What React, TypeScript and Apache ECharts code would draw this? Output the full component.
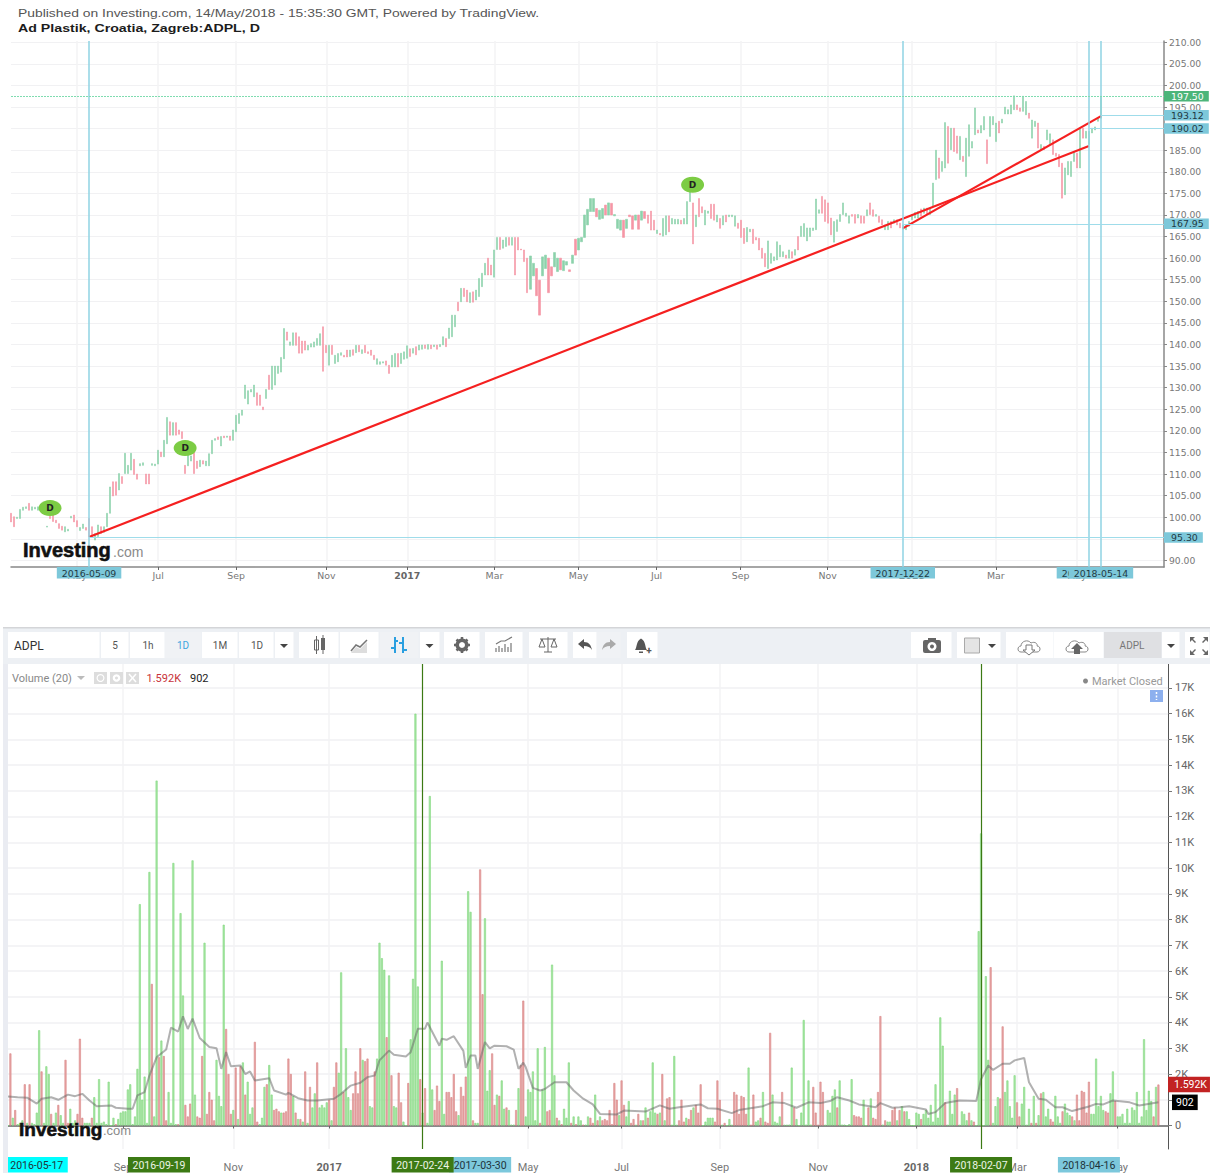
import React, { useEffect, useRef } from "react";
import * as echarts from "echarts";

// ---------- Price pane: one entry per drawn bar (low, high, direction u/d) ----------
const priceLows = [
  98.9,97.8,99.7,99.7,101.6,102,101.6,101.6,101.9,101.6,
  101.5,101,97.7,99.7,99,98.7,97.4,97,96.6,96.8,
  99.8,98.9,97.8,96.9,97.4,97,95.5,95.3,94.7,95.5,
  96.2,96.5,97.8,100.9,104.9,105.1,106.3,107.8,110.1,110.1,
  110.9,109.9,108.8,111.9,112,107.7,107.7,112,111.9,112.3,
  114,114,117,119,119,119,119.2,118.2,110.1,111.9,
  113,110.1,111.3,111.7,112.3,111.9,111.9,114.7,117.8,118,
  116.5,118.4,118.5,117.8,117.8,119.8,121.7,123.6,127.5,126.2,
  129,127.9,125.9,125.9,124.9,127.5,129.6,129.6,130.6,133.3,
  133.6,136.7,141,139.8,139.8,139.8,138,138,138.7,138.7,
  139.4,139.4,139.8,139.8,133.8,138.1,135.2,137.7,135.6,136,
  137.5,137.1,137.1,137.2,137.5,138.1,138.3,137.9,138.1,137.9,
  137.5,136.5,135.4,135.4,135.7,135.2,133.3,134.8,134.8,134.8,
  135.6,136.6,136.8,137.2,138,137.6,138.7,138.9,139.1,138.9,
  139,139.5,138.9,139.5,139.9,139.5,141.4,141.8,144.1,147.8,
  149.9,151.1,149.9,149.7,149.8,150.3,151.1,153.4,156.1,156.1,
  156.1,155.6,162,162,162.3,162.7,163,163,156.1,161.9,
  161.9,159.2,152,152.8,155.9,151.3,146.8,155.9,157.6,152,
  155.9,158,156.9,157.3,157.1,158.4,156.9,158.8,160.7,161.9,
  163.8,164.8,167.7,170.8,170.8,169.6,169,169.2,170,170,
  170,169.8,166.9,166.5,164.8,166.9,169.6,166.7,168.8,166.7,
  168.8,169.2,168.1,166.5,166.5,165.7,165.4,165.1,165.4,166.1,
  167.9,167.9,167.9,167.9,167.9,167.9,173.1,163.3,167.3,169.6,
  170.5,167.7,170.4,169.2,168.8,168.4,166.9,167.7,168.4,169.6,
  169.6,167.4,166.9,164.8,163.4,163.8,166.1,163.4,164.2,161.9,
  160,158,157.6,158.8,159.4,159.6,160.3,160.3,160,160,
  160,160.7,161.9,165,165,164,165,166.4,166.6,170.4,
  170.4,168.5,168.1,165.4,163.7,166.2,168.5,170.1,169.7,168.1,
  169.7,168.1,169.3,168.1,168.1,169.8,170.1,169.7,169.7,168.3,
  167.7,166.6,166.6,167,168.1,167.7,167,166.7,166.6,167.4,
  168.9,169.3,169.3,169.7,170.4,170.1,170.1,172,178.2,178.5,
  180.1,180.9,182,185.1,184.7,184.3,182.8,182.4,178.9,183.6,
  185.5,188.6,189,189,189.7,181.9,188.2,190.9,187,189,
  191.3,193.4,193.4,193.4,194.4,194.4,194,194,193.2,192.4,
  187.8,190.5,185.5,185.1,185.1,187.4,186.3,184,183.6,181.2,
  173.9,174.7,179.3,178.9,182.4,180.9,180.9,187.8,187.8,186.3,
  189,189.7,191.7,192.4,
];
const priceHighs = [
  100.9,100.1,100,101.8,102.3,102.4,103.2,102.4,102.3,102.4,
  102.2,102,97.9,100.2,100.5,99.3,98.5,97.9,97.8,97.2,
  100.2,100.5,99.2,97.6,98.4,97.6,99.7,97.8,96.2,98.2,
  97.8,97.8,100.9,107,108.2,108.2,110.1,109.4,114.8,112,
  114.8,113.4,110,112.4,112.6,110,110,112.4,112.3,115.5,
  115.1,117.8,123.1,122.1,121.9,121.9,120.2,119.8,112,114.4,
  114.2,115.5,113,113.2,113.1,113,114.7,117.8,118.2,118.6,
  118.7,118.8,118.8,118.8,120.2,123.6,124,124.8,130.6,129.3,
  129.6,130.6,128.8,128.3,125.5,129.6,132.9,135,135,135,
  137,143.7,142.9,140.6,142.7,142.7,141.8,140.8,140.8,139.8,
  140.2,140.6,141.4,142.5,144.1,139.8,139.8,139.8,137.5,137.9,
  138.1,137.5,138.7,138.7,138.8,139.8,139.8,138.8,139.8,138.3,
  138.7,137.5,136.7,136,136,136.2,135.2,137.5,137.9,137.9,
  138,138.3,139.7,139,139.1,139.5,139.9,139.9,139.9,140,
  139.9,139.9,139.9,140,141.8,141.4,143.8,146.8,146.8,149.8,
  153,153,152.6,152,152.2,152.6,155.3,156.5,158.8,160,
  158.4,161.9,164.8,164.8,164.2,164.8,164.8,164.8,164.8,164.8,
  162.1,161.9,160,160.5,158.8,157.6,154.9,160.3,160.7,160,
  158,161.3,160,160,159.4,159.2,157.3,160.7,164.4,164.6,
  164.8,170,171.3,173.8,173.8,171.5,171.1,171.5,172.3,172.8,
  172.7,170.1,169,168.8,168.8,169,170,169.8,170,170,
  170.9,170.8,170,170.9,168.8,166.5,165.7,169.2,169.8,169.8,
  169.2,169,169,168.8,169.2,173.1,175.4,172.8,170,173.8,
  171.9,171.1,170.9,172.5,172.5,170,169.2,169.8,170,170,
  170,169.8,168.1,168.8,166.9,167.1,166.7,166.7,164.8,164.6,
  162.3,161.1,164,161.1,160.3,163.8,163,161.5,160.7,161.9,
  161.5,162,165,167.4,168,167,167,167,173.7,171.2,
  174.3,173.5,172.8,169.3,168.5,168.9,170.1,172.8,170.4,169.8,
  170.1,170.1,170.1,169.8,169.7,171.2,172.8,171.2,170.1,169.7,
  168.9,167.7,168.5,168.5,168.9,168.9,168.1,167.7,167.7,168.5,
  170.1,170.6,170.8,171.4,171.6,171.6,171.6,177.4,185,183.2,
  182.4,191.4,190.5,190.1,190.1,188.3,188.2,183.6,187.8,190.9,
  187,194.8,189.7,190.7,192.8,187.4,192.8,192.8,191.3,191.7,
  192.2,195,194.4,195.5,197.6,195.5,194.8,197.5,196.3,193.6,
  192,191.7,191.3,186.3,185.9,189.7,188.8,187.4,184.3,184,
  182,180.9,182.4,182.4,184.7,184.3,190.1,190.1,189.4,189.4,
  190.1,190.4,192.4,197.5,
];
const priceDirections = [
  "dduuu uduuu","uuudd ddduu","udduu ddduu","duuud duduu","udduu dduuu",
  "duudu ddddu","uddud uuuud","ududu uuuuu","uuddd uduuu","uuduu ddddu",
  "uuuud duduu","uddud ududd","dduuu dduud","uuudu duudu","duduu duuud",
  "uddud uuuud","duudu ududd","ddduu dduud","duudu ududu","uuuuu duudu",
  "duuud uddud","udddd uduud","uuudu uudud","duudd ududu","uuddd uuddd",
  "dduuu uuudu","duduu uuuuu","ddddu uuuuu","ddudd uddud","duudu dduuu",
  "uuudu duuud","uudud duduu","uuduu duuud","uuuuu dduud","uudud uuddd",
  "duuuu duduu","uuuu",
].join("").replace(/ /g, "");

const priceLabels: Record<number, string> = {
  22: "May", 49: "Jul", 75: "Sep", 105: "Nov", 132: "2017", 161: "Mar", 189: "May",
  215: "Jul", 243: "Sep", 272: "Nov", 300: "2018", 328: "Mar", 355: "May",
};
const priceCategories = Array.from({ length: 385 }, (_, i) => String(i));
const priceTicks = [90,95,100,105,110,115,120,125,130,135,140,145,150,155,160,165,170,175,180,185,190,195,200,205,210];
const longTrend = [[26, 95.4], [359, 186]];
const shortTrend = [[297, 166.9], [363, 192.9]];
const dividends = [[13, 102.1], [58, 116], [227, 177]];
const priceDateTags: [number, string][] = [[26, "2016-05-09"], [297, "2017-12-22"], [359, "2018-05-07"], [363, "2018-05-14"]];
const priceLevels: [number, number, string][] = [[363, 193.12, "193.12"], [359, 190.02, "190.02"], [297, 167.95, "167.95"], [26, 95.3, "95.30"]];

// ---------- Volume pane: thousands of shares; negative = down day ----------
const signedVolumeK = [
  0,-2.8,.3,-.6,.05,.1,.2,-1.6,.1,-1.6,
  .1,.05,.5,3.7,-2.1,.1,2.3,2,-.45,.1,
  .5,-.8,.4,.1,-2.55,-.1,.65,.1,.2,-.45,
  -3.37,-.3,.1,.1,.1,-.3,1.1,.1,1.8,.1,
  .15,.05,1.7,0,.3,-.05,.25,.5,.55,.55,
  1.4,1.6,.05,.35,2.2,8.6,1,1.9,.1,9.85,
  -5.5,.35,13.4,-2.65,3.3,-2.7,-.2,1.3,.1,10.2,
  .05,-.05,8.25,5.05,-.8,-.35,-.85,10.3,1.2,-.35,
  -.3,-2.7,7.1,-.45,-1.3,-1,-.2,2.55,1.15,.75,
  7.8,-3.75,-2,-.45,.6,-2.25,.25,-2.3,2.45,-1.2,
  1.7,.45,.7,-3.25,-.15,.05,.3,1.5,-1.6,2.35,
  1.2,-.6,-.65,-.55,.5,-.5,-.55,-2.6,-2,1.15,
  -.5,.25,-.25,.15,-2.1,.1,-1.5,.7,1.25,-2.45,
  .7,.8,.7,.9,-1,.2,-1.5,-2.45,2.05,5.95,
  -1.3,3,1.1,.6,-1.25,-2.1,-1.25,-3,2.55,-2.5,
  -2.6,.75,.7,-2.1,2.6,7.1,6.5,6.05,-3.43,5.83,
  -1.95,.75,.7,-2.05,-.9,.15,0,-1.65,3.35,5.7,
  16,5.4,-1.8,.5,-1.45,.1,12.8,1.4,-.6,-1.55,
  -.95,6.4,.45,-1.3,-1.3,-1.1,-2,-.55,.4,-1.5,
  -1.15,-1.9,9.1,8.3,-.2,.1,.1,-9.95,-5.1,8.05,
  1.35,2.15,-2.8,-.8,1.2,-1.15,1.75,.65,-.7,.6,
  .03,.03,-.6,1.45,-2.35,-4.85,.35,1.4,1.3,2.1,
  .2,3,-.1,1.4,3.05,-.55,-.6,6.25,1.95,-.3,
  .2,-.05,.65,.3,2.45,-.1,.35,-.05,.35,.2,
  -.03,.03,.35,-.3,-.1,1.2,-.2,.35,-.2,-.25,
  -.2,-.6,-.05,-1.65,-1,.4,-1.75,-.8,.35,.95,
  -.1,-.25,.02,-.45,.2,-.2,.7,-.3,.55,2.45,
  .5,-.45,.5,-2,.2,-1.05,-1.1,.02,2.7,.02,
  -.2,-1,-.15,.3,-.25,-.6,.7,-.8,-.5,-1.6,
  0,.15,.3,.3,.3,-.15,-1.75,-1,.02,-.1,
  0,.25,.02,-1.3,-1.2,-.45,-1.15,-1.1,-.45,2.25,
  -.02,-1.2,.15,.2,-.3,1.3,-.15,-.1,-3.6,1.2,
  .15,.1,.35,-1.3,.02,.02,.03,2.25,-.7,.25,
  0,.5,4.1,.03,1.75,.03,-1.5,-.5,-.02,-1.7,
  -1.3,.02,.6,.5,1.15,1.4,-.7,1.75,.03,.03,
  0,.05,1.8,-.4,-.35,-.35,-.3,1,0,-.7,
  1.05,-.3,-.25,-1.3,-4.25,.03,-.2,.15,.15,-.6,
  -.7,.2,-.6,.75,-.55,.55,.25,0,0,.5,
  .45,-.25,.45,.6,.3,.8,.15,1.6,.3,4.2,
  3.1,-.9,.02,1.35,.45,1.2,-1.45,.02,.55,.45,
  .2,-.5,.2,-.15,0,7.55,11.35,0,5.8,2.55,
  -6.15,.1,.75,1.1,-1.05,-3.85,1.3,1.75,.75,.3,
  1.95,-.9,-.35,.85,1.5,.02,.65,-.1,1.15,-.1,
  .4,-1.25,1.3,.35,.65,-.25,-.15,1.15,.35,.1,
  -.55,.85,.5,.4,-.35,.2,-1.2,-.2,-1.35,-1.3,
  -.5,-1.7,.45,.45,2.6,.75,1.15,.6,-.55,-.5,
  1.25,2.1,-.95,.35,.35,.45,.1,.65,.1,.7,
  .6,1.3,.1,.35,3.35,.6,1.35,.95,-.35,1.5,
  -1.592,
];
// [bar number, Volume(20) in thousands]
const volumeAverageK = [
  [0,1.13],[4,1.1],[8,1.08],[12,.85],[14,1.04],[18,1.1],[21,1],[25,1.2],[28,1.14],[31,1.23],[34,.97],[37,.75],[43,.78],[45,.69],[50,.65],[52,.65],[54,1.17],[57,1.3],[59,1.94],[62,2.65],[66,2.95],[68,3.8],[71,3.65],[73,4.24],[75,3.75],[77,4.15],[80,3.4],[84,3.05],[87,3],[89,2.2],[91,2.85],[93,2.3],[97,2.33],[99,2],[101,2.1],[103,1.75],[109,1.84],[111,1.36],[116,1.2],[117,1.27],[121,1.06],
  [125,.97],[129,.97],[136,1.04],[139,1.23],[143,1.55],[147,1.66],[150,1.88],[153,1.94],[155,2.53],[159,2.91],[161,2.75],[166,2.68],[168,2.85],[171,3.76],[174,3.76],[175,4],[180,3.1],[181,3.37],[183,3.33],[186,3.47],[190,2.9],[191,2.24],[193,2.72],[195,2.72],[196,2.2],[199,3.24],[201,3],[203,3.1],[208,3.08],[211,2.95],[213,2.2],[215,2.44],[216,2.27],[219,1.46],[222,1.36],[224,1.42],[228,1.68],[233,1.68],[236,1.36],[240,1.04],[244,.82],[247,.45],
  [254,.43],[257,.58],[266,.54],[272,.78],[276,.65],[280,.71],[289,.82],[292,.67],[296,.65],[302,.48],[305,.6],[315,.75],[319,.9],[324,.87],[329,.69],[334,.9],[339,.87],[343,.95],[346,1.1],[351,.97],[355,.82],[362,.71],[364,.87],[369,.69],
  [372,.71],[376,.75],[383,.62],[384,.45],[387,.52],[391,.87],[397,.97],[404,.95],[406,1.8],[409,2.33],[411,2.16],[415,2.4],[418,2.4],[420,2.53],[424,2.62],[426,1.68],[430,1.04],[433,1],[437,.71],[440,.71],[444,.56],[451,.74],[454,.84],[457,.82],[461,.97],[468,.9],[472,.78],[480,.9],
];
const volumeLabels: Record<number, string> = {
  48: "Sep", 94: "Nov", 134: "2017", 217: "May", 256: "Jul", 297: "Sep", 338: "Nov", 379: "2018", 421: "Mar", 463: "May",
};
const volumeCategories = Array.from({ length: 485 }, (_, i) => String(i));
const volumeTicks = Array.from({ length: 18 }, (_, i) => i);
const volumeTickLabels = ["0","1K","2K","3K","4K","5K","6K","7K","8K","9K","10K","11K","12K","13K","14K","15K","16K","17K"];
const volumeCrosshairs: [number, string][] = [[173, "2017-02-24"], [406, "2018-02-07"]];
const volumeMarks: [number, string, string, string][] = [
  [12, "2016-05-17", "#00ffff", "#20333a"],
  [63, "2016-09-19", "#3c7a14", "#eef5e8"],
  [197, "2017-03-30", "#7cc8dc", "#20333a"],
  [451, "2018-04-16", "#7cc8dc", "#20333a"],
];

const SANS = "'Liberation Sans', Arial, sans-serif";
const DEJA = "'DejaVu Sans', sans-serif";
const ROB = "Roboto, sans-serif";
const TAG_BLUE = "#7dc8da";
const CLEAR = "rgba(0,0,0,0)";

const icons: Record<string, string> = {
  icoBell: "M-6 5C-4 3 -5 -4 0 -6.5C5 -4 4 3 6 5Z M-2 6.5H2V8H-2Z",
  icoCloud: "M-8 6C-12 6 -12 0 -8 0C-8 -5 -1 -7 2 -3C6 -5 9 -2 8 0C12 0 12 6 8 6Z",
  icoScale: "M-8 -6H8 M0 -8V7 M-4 7H4 M-6 -6L-9 2H-3Z M6 -6L3 2H9Z",
  icoArea: "M-8 7L-3 1L1 3L8 -4V7Z",
  icoLine: "M-8 5L-3 -1L1 1L8 -6",
  icoBars: "M-4 -8V8 M-4 3H-8 M-4 -4H-1 M4 -8V8 M4 -2H0 M4 5H8",
  icoInd: "M-8 7V3 M-5 7V1 M-2 7V3 M1 7V-1 M4 7V2 M7 7V-2 M-8 -1L-3 -4L1 -4L8 -8",
  icoBack: "M-7 -1L-1 -6V-3C4 -3 6 0 7 5C5 2 3 1 -1 1V4Z",
  icoFwd: "M7 -1L1 -6V-3C-4 -3 -6 0 -7 5C-5 2 -3 1 1 1V4Z",
  icoDown: "M-3 -2H3V3H6L0 8L-6 3H-3Z",
  icoUp: "M-3 8H3V3H6L0 -3L-6 3H-3Z",
  icoFull: "M-9 -9H-4L-6 -7L-3 -4L-4 -3L-7 -6L-9 -4Z M9 -9H4L6 -7L3 -4L4 -3L7 -6L9 -4Z M-9 9H-4L-6 7L-3 4L-4 3L-7 6L-9 4Z M9 9H4L6 7L3 4L4 3L7 6L9 4Z",
  icoCaret: "M-4 -2H4L0 2Z",
};
Object.entries(icons).forEach(([k, d]) => echarts.graphic.registerShape(k, echarts.graphic.extendPath(d, {})));

const Z = 50;
const rect = (x: number, y: number, w: number, h: number, fill: string, extra: any = {}) => ({
  type: "rect", z: Z, shape: { x, y, width: w, height: h }, style: { fill, ...extra },
});
const txt = (x: number, y: number, text: string, font: string, fill: string, align = "left", extra: any = {}, el: any = {}) => ({
  type: "text", z: Z + 2, x, y, style: { text, font, fill, textAlign: align, textVerticalAlign: "middle", ...extra }, ...el,
});
const ico = (type: string, x: number, y: number, style: any) => ({ type, x, y, z: Z + 1, style });

function chrome(): any[] {
  const els: any[] = [];
  const y0 = 632, h = 26, midY = 645;
  els.push(txt(18, 13, "Published on Investing.com, 14/May/2018 - 15:35:30 GMT, Powered by TradingView.", `11px ${SANS}`, "#555", "left", {}, { scaleX: 1.262 }));
  els.push(txt(18, 29, "Ad Plastik, Croatia, Zagreb:ADPL, D", `bold 11px ${SANS}`, "#1c1c1c", "left", {}, { scaleX: 1.29 }));

  els.push(rect(3, 628, 1207, 36, "#edf0f4"));
  els.push(rect(3, 627, 1207, 1.5, "#d4d5d8"));
  els.push(rect(3, 664, 5, 509, "#eaecf2"));

  const cells: [number, number, string][] = [
    [8, 100, "#fff"], [101, 129, "#fff"], [130, 165, "#fff"], [165, 202, "#f0f2f5"], [202, 238, "#fff"], [239, 274, "#fff"], [275, 294, "#fff"],
    [299, 339, "#fff"], [340, 379, "#fff"], [380, 419, "#f0f2f5"], [420, 440, "#fff"], [444, 480, "#fff"], [485, 523, "#fff"], [529, 568, "#fff"],
    [573, 597, "#fff"], [597, 621, "#f0f2f5"], [627, 658, "#fff"], [911, 952, "#fff"], [957, 1001, "#fff"], [1006, 1054, "#fff"], [1054, 1104, "#fff"],
    [1104, 1162, "#dfe0e3"], [1162, 1180, "#fff"], [1185, 1210, "#fff"],
  ];
  cells.forEach(([a, b, c]) => els.push(rect(a, y0, b - a - 0.5, h, c)));

  els.push(txt(14, midY + 1, "ADPL", `12px ${ROB}`, "#333"));
  els.push(txt(115, midY, "5", `10px ${ROB}`, "#555", "center"));
  els.push(txt(148, midY, "1h", `10px ${ROB}`, "#555", "center"));
  els.push(txt(183, midY, "1D", `10px ${ROB}`, "#3da5e0", "center"));
  els.push(txt(220, midY, "1M", `10px ${ROB}`, "#555", "center"));
  els.push(txt(257, midY, "1D", `10px ${ROB}`, "#555", "center"));
  els.push(txt(1132, midY, "ADPL", `10px ${ROB}`, "#777", "center"));

  [284, 429.5, 992, 1171].forEach((x) => els.push(ico("icoCaret", x, midY + 1, { fill: "#444" })));

  els.push(rect(314.5, 640, 4, 10, "#fff", { stroke: "#666", lineWidth: 1 }));
  els.push(rect(321, 638, 4, 12, "#666"));
  els.push({ type: "line", z: Z + 1, shape: { x1: 316.5, y1: 636, x2: 316.5, y2: 654 }, style: { stroke: "#666", lineWidth: 1 } });
  els.push({ type: "line", z: Z + 1, shape: { x1: 323, y1: 635, x2: 323, y2: 654 }, style: { stroke: "#666", lineWidth: 1 } });
  els.push(ico("icoArea", 359, midY + 1, { fill: "#ddd" }));
  els.push(ico("icoLine", 359, midY + 1, { fill: "none", stroke: "#777", lineWidth: 1.5 }));
  els.push(ico("icoBars", 399, midY, { fill: "none", stroke: "#2a9fe0", lineWidth: 2 }));
  els.push({ type: "ring", z: Z + 1, shape: { cx: 462, cy: midY, r: 6.5, r0: 3 }, style: { fill: "#666" } });
  [[462, 637, 462, 653], [454, 645, 470, 645], [456.5, 639.5, 467.5, 650.5], [467.5, 639.5, 456.5, 650.5]].forEach(([a, b, c, d]) =>
    els.push({ type: "line", z: Z + 1, shape: { x1: a, y1: b, x2: c, y2: d }, style: { stroke: "#666", lineWidth: 2.5, lineDash: [3, 10] } })
  );
  els.push(ico("icoInd", 504, midY, { fill: "none", stroke: "#777", lineWidth: 1.2 }));
  els.push(ico("icoScale", 548, midY, { fill: "none", stroke: "#666", lineWidth: 1 }));
  els.push(ico("icoBack", 585, midY, { fill: "#555" }));
  els.push(ico("icoFwd", 609, midY, { fill: "#aaa" }));
  els.push(ico("icoBell", 641, midY, { fill: "#555" }));
  els.push(txt(649, midY + 5, "+", `bold 10px ${ROB}`, "#555", "center"));
  els.push({ type: "rect", z: Z + 1, shape: { x: 923, y: 640, width: 18, height: 13, r: 2 }, style: { fill: "#666" } });
  els.push(rect(928, 638, 8, 3, "#666"));
  els.push({ type: "ring", z: Z + 1, shape: { cx: 932, cy: 646.5, r: 4.5, r0: 2 }, style: { fill: "#fff" } });
  els.push(rect(964.5, 638, 15, 15, "#e4e4e4", { stroke: "#aaa", lineWidth: 1 }));
  els.push(ico("icoCloud", 1029, midY + 1, { fill: "#fff", stroke: "#888", lineWidth: 1 }));
  els.push(ico("icoDown", 1029, midY + 2, { fill: "#fff", stroke: "#777", lineWidth: 1 }));
  els.push(ico("icoCloud", 1077, midY + 1, { fill: "#fff", stroke: "#888", lineWidth: 1 }));
  els.push(ico("icoUp", 1077, midY + 1, { fill: "#666" }));
  els.push(ico("icoFull", 1199, midY + 1, { fill: "#666" }));

  els.push(txt(12, 678, "Volume (20)", `11px ${ROB}`, "#888"));
  els.push(ico("icoCaret", 81, 678, { fill: "#bbb" }));
  [94, 110, 126].forEach((x) => els.push(rect(x, 672, 13, 12, "#ddd")));
  els.push({ type: "ring", z: Z + 1, shape: { cx: 100.5, cy: 678, r: 4, r0: 2.8 }, style: { fill: "#fff" } });
  els.push({ type: "ring", z: Z + 1, shape: { cx: 116.5, cy: 678, r: 3.8, r0: 1.5 }, style: { fill: "#fff" } });
  els.push({ type: "line", z: Z + 1, shape: { x1: 129, y1: 674, x2: 136, y2: 682 }, style: { stroke: "#fff", lineWidth: 1.5 } });
  els.push({ type: "line", z: Z + 1, shape: { x1: 136, y1: 674, x2: 129, y2: 682 }, style: { stroke: "#fff", lineWidth: 1.5 } });
  els.push(txt(146.5, 678, "1.592K", `11px ${ROB}`, "#c8333a"));
  els.push(txt(190, 678, "902", `11px ${ROB}`, "#222"));
  els.push({ type: "circle", z: Z + 1, shape: { cx: 1085.5, cy: 681, r: 2.5 }, style: { fill: "#888" } });
  els.push(txt(1092, 681, "Market Closed", `11px ${ROB}`, "#999"));
  els.push(rect(1150, 690, 13, 12, "#8db0ee"));
  els.push({ type: "line", z: Z + 1, shape: { x1: 1156.5, y1: 692, x2: 1156.5, y2: 700 }, style: { stroke: "#fff", lineWidth: 1.5, lineDash: [2, 1.5] } });

  const heavy = { stroke: "#111", lineWidth: 0.6 };
  els.push(txt(23, 550, "Investing", `bold 20px ${SANS}`, "#111", "left", heavy));
  els.push(txt(113, 551.5, ".com", `14px ${SANS}`, "#8a8a8a"));
  els.push(txt(19, 1129, "Investing", `bold 19px ${SANS}`, "#111", "left", heavy));
  els.push(txt(103, 1130.5, ".com", `13px ${SANS}`, "#8a8a8a"));
  return els;
}

function buildOption(): any {
  const candles = priceLows.map((lo, i) => {
    const hi = priceHighs[i];
    return priceDirections[i] === "d" ? [hi, lo, lo, hi] : [lo, hi, lo, hi];
  });
  const bars = signedVolumeK.map((v) => ({
    value: Math.abs(v),
    itemStyle: v < 0 ? { color: "#e8a6a6", borderColor: "#d98484" } : { color: "#a9e6a6", borderColor: "#7fd67c" },
  }));
  const priceIdx = (i: number) => priceLabels[i] !== undefined;
  const volIdx = (i: number) => volumeLabels[i] !== undefined;

  const priceLineData: any[] = [
    ...priceDateTags.map(([i, t]) => ({
      xAxis: i,
      lineStyle: { color: "#8fd3e3", width: 1.5, type: "solid" },
      label: { show: true, formatter: t, position: "start", distance: 0, color: "#1f3a44", backgroundColor: TAG_BLUE, padding: [1.5, 5, 1, 5], fontFamily: DEJA, fontSize: 9.4 },
    })),
    [
      {
        coord: [0, 197.5], lineStyle: { color: "#7fdcb0", width: 1, type: [2, 1] },
        label: { show: true, formatter: "197.50", position: "end", distance: 0, color: "#fff", backgroundColor: "#4cb57a", padding: [1, 5, 0.5, 7], fontFamily: DEJA, fontSize: 9.4 },
      },
      { coord: [384, 197.5] },
    ],
    ...priceLevels.map(([i, v, t]) => [
      {
        coord: [i, v], lineStyle: { color: "#9fdcea", width: 1.2, type: "solid" },
        label: { show: true, formatter: t, position: "end", distance: 0, color: "#1f3a44", backgroundColor: TAG_BLUE, padding: [1, 5, 0.5, 7], fontFamily: DEJA, fontSize: 9.4 },
      },
      { coord: [384, v] },
    ]),
  ];

  const volumeLineData: any[] = [
    ...volumeMarks.map(([i, t, bg, fg]) => ({
      xAxis: i,
      lineStyle: { color: CLEAR, width: 1 },
      label: { show: true, formatter: t, position: "start", distance: 8, color: fg, backgroundColor: bg, padding: [2.5, 4.5, 2, 4.5], fontFamily: ROB, fontSize: 10.5 },
    })),
    ...volumeCrosshairs.map(([i, t]) => ({
      xAxis: i,
      lineStyle: { color: "#3c7a14", width: 1.2, type: "solid" },
      label: { show: true, formatter: t, position: "start", distance: 8, color: "#eef5e8", backgroundColor: "#3c7a14", padding: [2.5, 4.5, 2, 4.5], fontFamily: ROB, fontSize: 10.5 },
    })),
    {
      yAxis: 1.592, lineStyle: { color: CLEAR, width: 1 },
      label: { show: true, formatter: "1.592K", position: "end", distance: 0, color: "#fff", backgroundColor: "#c22323", padding: [2.5, 3, 2, 6], fontFamily: ROB, fontSize: 10.5 },
    },
    {
      yAxis: 0.902, lineStyle: { color: CLEAR, width: 1 },
      label: { show: true, formatter: "902", position: "end", distance: 4, color: "#fff", backgroundColor: "#000", padding: [2.5, 4, 2, 4], fontFamily: ROB, fontSize: 10.5 },
    },
  ];

  return {
    animation: false,
    backgroundColor: "#fff",
    grid: [
      { left: 11, right: 46, top: 41, height: 526 },
      { left: 8, right: 42, top: 664, height: 485 },
    ],
    xAxis: [
      {
        type: "category", gridIndex: 0, data: priceCategories, boundaryGap: false,
        axisLine: { lineStyle: { color: "#888", width: 1.5 } },
        axisTick: { interval: priceIdx, length: 3, lineStyle: { color: "#666" } },
        splitLine: { show: true, interval: priceIdx, lineStyle: { color: "#f3f3f5", width: 1.5 } },
        axisLabel: {
          interval: priceIdx, margin: 4, color: "#777", fontFamily: DEJA, fontSize: 9.4, rich: { y: { fontWeight: "bold", color: "#666", fontFamily: DEJA, fontSize: 9.4 } },
          formatter: (_: string, i: number) => {
            const t = priceLabels[i] ?? "";
            return /^\d/.test(t) ? `{y|${t}}` : t;
          },
        },
      },
      {
        type: "category", gridIndex: 1, data: volumeCategories, boundaryGap: false, offset: 8,
        axisLine: { lineStyle: { color: "#666", width: 1.5 } },
        axisTick: { interval: volIdx, length: 3, lineStyle: { color: "#666" } },
        splitLine: { show: true, interval: volIdx, lineStyle: { color: "#f3f3f5", width: 1.5 } },
        axisLabel: {
          interval: volIdx, margin: 5, color: "#777", fontFamily: ROB, fontSize: 11, rich: { y: { fontWeight: "bold", color: "#666", fontFamily: ROB, fontSize: 11 } },
          formatter: (_: string, i: number) => {
            const t = volumeLabels[i] ?? "";
            return /^\d/.test(t) ? `{y|${t}}` : t;
          },
        },
      },
    ],
    yAxis: [
      {
        type: "value", gridIndex: 0, position: "right", min: 88.46, max: 210.3,
        axisLine: { show: true, lineStyle: { color: "#888", width: 1.5 } },
        axisTick: { show: true, customValues: priceTicks, length: 3, lineStyle: { color: "#888" } },
        axisLabel: { customValues: priceTicks, margin: 5, color: "#777", fontFamily: DEJA, fontSize: 9.2, formatter: (v: number) => v.toFixed(2) },
        splitLine: { show: true, lineStyle: { color: "#f1f1f3", width: 1 } },
      },
      {
        type: "value", gridIndex: 1, position: "right", min: -0.913, max: 17.93,
        axisLine: { show: true, lineStyle: { color: "#555", width: 1 } },
        axisTick: { show: true, customValues: volumeTicks, length: 4, lineStyle: { color: "#777" } },
        axisLabel: { customValues: volumeTicks, margin: 7, color: "#666", fontFamily: ROB, fontSize: 11, formatter: (v: number) => volumeTickLabels[Math.round(v)] ?? "" },
        splitLine: { show: true, lineStyle: { color: "#f1f1f3", width: 1.5 } },
      },
    ],
    series: [
      {
        type: "candlestick", xAxisIndex: 0, yAxisIndex: 0, data: candles, barWidth: 1.6, z: 3,
        itemStyle: { color: "#8cd2ab", color0: "#f596a5", borderColor: "#8cd2ab", borderColor0: "#f596a5", borderWidth: 0.6 },
        markLine: { silent: true, symbol: "none", data: priceLineData, animation: false },
      },
      {
        type: "line", xAxisIndex: 0, yAxisIndex: 0, data: longTrend, showSymbol: false, z: 4, silent: true,
        lineStyle: { color: "#f52020", width: 2.2 },
        markPoint: {
          silent: true, symbol: "circle", symbolSize: [23, 16],
          itemStyle: { color: "#7ccc44" },
          label: { show: true, formatter: "D", color: "#222", fontFamily: DEJA, fontSize: 9, fontWeight: "bold" },
          data: dividends.map(([x, y]) => ({ coord: [x, y] })),
        },
      },
      { type: "line", xAxisIndex: 0, yAxisIndex: 0, data: shortTrend, showSymbol: false, z: 4, silent: true, lineStyle: { color: "#f52020", width: 2.2 } },
      {
        type: "bar", xAxisIndex: 1, yAxisIndex: 1, data: bars, barWidth: 2, z: 2,
        itemStyle: { borderWidth: 0.6 },
        markLine: { silent: true, symbol: "none", data: volumeLineData, animation: false },
      },
      {
        type: "line", xAxisIndex: 1, yAxisIndex: 1, data: volumeAverageK, showSymbol: false, z: 4, silent: true,
        lineStyle: { color: "rgba(100,100,100,0.5)", width: 2 },
      },
    ],
    graphic: { elements: chrome() },
  };
}

export default function App() {
  const ref = useRef<HTMLDivElement>(null);
  useEffect(() => {
    const chart = echarts.init(ref.current!, undefined, { renderer: "svg" });
    chart.setOption(buildOption());
    return () => chart.dispose();
  }, []);
  return <div ref={ref} style={{ position: "absolute", left: 0, top: 0, width: 1210, height: 1173, background: "#fff" }} />;
}
